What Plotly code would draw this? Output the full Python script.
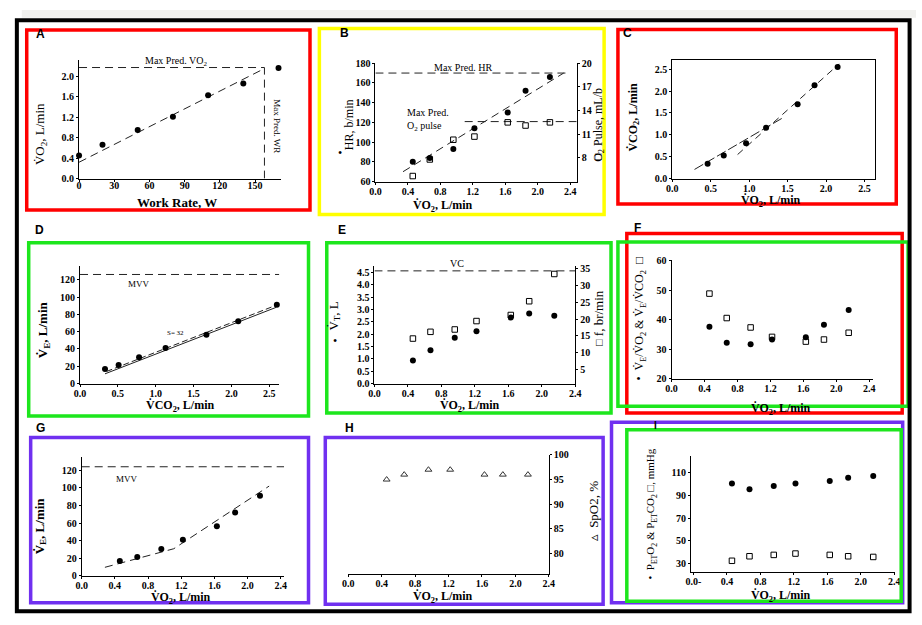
import plotly.graph_objects as go

W, H = 922, 625
SERIF = "Liberation Serif, Times New Roman, serif"
SANS = "Liberation Sans, Arial, sans-serif"

# ---------------- data ----------------
vo2 = [0.46, 0.67, 0.96, 1.22, 1.63, 1.85, 2.15]

# A
work_rate = [0, 20, 50, 80, 110, 140, 170]
vo2_a = [0.45, 0.66, 0.95, 1.21, 1.63, 1.86, 2.16]
a_fit_x = [0, 158]
a_fit_y = [0.32, 2.15]
max_pred_vo2 = 2.17
max_pred_wr = 158

# B
hr = [80, 84, 93, 114, 130, 152, 166]
o2_pulse = [5.7, 7.8, 10.3, 10.7, 12.5, 12.1, 12.5]
b_fit_x = [0.34, 2.32]
b_fit_y = [70, 170]
max_pred_hr = 170
max_pred_o2p = 12.6

# C
vco2 = [0.34, 0.53, 0.81, 1.16, 1.70, 2.13, 2.55]
c_fit1_x = [0.29, 1.43]
c_fit1_y = [0.21, 1.38]
c_fit2_x = [0.85, 2.17]
c_fit2_y = [0.55, 2.62]

# D
vco2_d = [0.33, 0.51, 0.78, 1.13, 1.67, 2.09, 2.60]
ve = [17, 21.5, 30.5, 41, 56.5, 72, 91]
mvv_d = 126
d_fit1_x = [0.33, 2.59]
d_fit1_y = [11.3, 88]
d_fit2_x = [0.35, 2.65]
d_fit2_y = [14, 92.5]

# E
vt = [0.93, 1.35, 1.85, 2.12, 2.67, 2.84, 2.74]
f_br = [14.2, 16.2, 16.9, 19.4, 21.2, 25.3, 33.4]
vc = 4.56

# F
ve_vo2 = [37.6, 32.2, 31.7, 33.3, 34.1, 38.3, 43.3]
ve_vco2 = [48.9, 40.6, 37.4, 34.2, 32.6, 33.3, 35.6]

# G
mvv_g = 124
g_fit_x = [0.28, 1.11, 2.26]
g_fit_y = [9.7, 30.8, 102]

# H
spo2 = [95, 96, 97, 97, 96, 96, 96]

# I
peto2 = [100.7, 95.5, 98.5, 100.7, 102.8, 105.7, 107.4]
petco2 = [32.3, 36.3, 37.5, 38.7, 37.5, 36.3, 35.7]

# tick labels
x_ticks_vo2 = [0, 0.4, 0.8, 1.2, 1.6, 2.0, 2.4]
i_x_ticktext = ["0.0-", "0.4", "0.8", "1.2", "1.6", "2.0", "2.4"]

# ---------------- helpers ----------------
def pxx(p):
    return p / W


def pxy(p):
    return 1 - p / H


fig = go.Figure()
layout = {}


def axis(name, dom, rng, tickvals, anchor, horizontal, fmt=".1f", ticktext=None,
         side=None, overlaying=None, mirror=False):
    d = dict(range=rng, tickvals=tickvals, anchor=anchor, showline=True,
             linecolor="black", linewidth=1, ticks="outside", ticklen=2,
             tickwidth=1, tickcolor="black", showgrid=False, zeroline=False,
             mirror=mirror, fixedrange=True,
             tickfont=dict(family=SERIF, size=10, color="black", weight="bold"))
    if ticktext is not None:
        d["ticktext"] = ticktext
    else:
        d["tickformat"] = fmt
    if dom is not None:
        if horizontal:
            d["domain"] = [pxx(dom[0]), pxx(dom[1])]
            d["ticklabelstandoff"] = -2
        else:
            d["domain"] = [pxy(dom[1]), pxy(dom[0])]
    if side:
        d["side"] = side
    if overlaying:
        d["overlaying"] = overlaying
    layout[name] = d


def pts(x, y, xa, ya, kind="dot"):
    if kind == "dot":
        m = dict(symbol="circle", size=6, color="black")
    elif kind == "sq":
        m = dict(symbol="square-open", size=5.5, color="black", line=dict(width=1))
    else:
        m = dict(symbol="triangle-up-open", size=6, color="#333", line=dict(width=1))
    fig.add_trace(go.Scatter(x=x, y=y, xaxis=xa, yaxis=ya, mode="markers",
                             marker=m, cliponaxis=False, showlegend=False,
                             hoverinfo="skip"))


def dline(x, y, xa, ya, dash="8px,5px", width=1, color="#222"):
    fig.add_trace(go.Scatter(x=x, y=y, xaxis=xa, yaxis=ya, mode="lines",
                             line=dict(color=color, width=width, dash=dash),
                             cliponaxis=False, showlegend=False, hoverinfo="skip"))


annots = []


def txt(text, x, y, size=10, angle=0, bold=False, family=SERIF, xanchor="center",
        align="center"):
    annots.append(dict(text=text, x=pxx(x), y=pxy(y), xref="paper", yref="paper",
                       showarrow=False, textangle=angle, xanchor=xanchor,
                       yanchor="middle", align=align,
                       font=dict(family=family, size=size, color="black",
                                 weight="bold" if bold else "normal")))


VO2_T = "V\u0307O<sub>2</sub>, L/min"

# ---------------- Panel A ----------------
axis("xaxis", (74, 278.5), [0, 172], [0, 30, 60, 90, 120, 150], "y", True, fmt="d")
layout["xaxis"].update(ticklabelstandoff=-5)
axis("yaxis", (54.9, 176), [0, 2.32], [0, 0.4, 0.8, 1.2, 1.6, 2.0], "x", False)
dline(a_fit_x, a_fit_y, "x", "y")
dline([0, max_pred_wr], [max_pred_vo2, max_pred_vo2], "x", "y")
dline([max_pred_wr, max_pred_wr], [0, max_pred_vo2], "x", "y")
pts(work_rate, vo2_a, "x", "y")
txt("Max Pred. VO<sub>2</sub>", 172, 57, 10)
txt("Max Pred. WR", 275, 123, 9, angle=90)
txt(VO2_T, 35, 131, 13, angle=-90)
txt("Work Rate, W", 173, 200, 13, bold=True)
txt("A", 35, 29, 12, bold=True, family=SANS)

# ---------------- Panel B ----------------
axis("xaxis2", (374.3, 578.2), [0, 2.48], x_ticks_vo2, "y2", True)
axis("yaxis2", (58.3, 179), [60, 180], [60, 80, 100, 120, 140, 160, 180], "x2", False, fmt="d")
axis("yaxis3", None, [5, 20], [8, 11, 14, 17, 20], "x2", False, fmt="d", side="right",
     overlaying="y2")
dline(b_fit_x, b_fit_y, "x2", "y2")
dline([0, 2.36], [max_pred_hr, max_pred_hr], "x2", "y2")
dline([1.1, 2.48], [max_pred_o2p, max_pred_o2p], "x2", "y3")
pts(vo2, hr, "x2", "y2")
pts(vo2, o2_pulse, "x2", "y3", "sq")
txt("Max Pred. HR", 463, 63, 10)
txt("Max Pred.<br>O<sub>2</sub> pulse", 404, 116, 10, xanchor="left", align="left")
txt("HR, b/min", 347, 121, 12, angle=-90)
txt("\u2022", 338, 150, 12)
txt("O<sub>2</sub> Pulse, mL/b", 600, 121, 12, angle=-90)
txt("\u25a1", 600, 153, 11)
txt(VO2_T, 443, 204, 12, bold=True)
txt("B", 343, 28, 12, bold=True, family=SANS)

# ---------------- Panel C ----------------
axis("xaxis3", (675, 880), [0, 2.63], [0, 0.5, 1.0, 1.5, 2.0, 2.5], "y4", True, mirror=True)
axis("yaxis4", (55, 176), [0, 2.71], [0, 0.5, 1.0, 1.5, 2.0, 2.5], "x3", False, mirror=True)
dline(c_fit1_x, c_fit1_y, "x3", "y4", dash="10px,3px")
dline(c_fit2_x, c_fit2_y, "x3", "y4", dash="7px,5px")
pts(vo2, vco2, "x3", "y4")
txt("V\u0307CO<sub>2</sub>, L/min", 636, 113, 12, angle=-90, bold=True)
txt(VO2_T, 775, 198.5, 12, bold=True)
txt("C", 630, 28, 12, bold=True, family=SANS)

# ---------------- Panel D ----------------
axis("xaxis4", (75, 276.7), [0, 2.63], [0, 0.5, 1.0, 1.5, 2.0, 2.5], "y5", True)
axis("yaxis5", (265, 385), [0, 135.9], [0, 20, 40, 60, 80, 100, 120], "x4", False, fmt="d")
dline([0, 2.67], [mvv_d, mvv_d], "x4", "y5")
dline(d_fit1_x, d_fit1_y, "x4", "y5", dash="solid")
dline(d_fit2_x, d_fit2_y, "x4", "y5", dash="6px,3px")
pts(vco2_d, ve, "x4", "y5")
txt("MVV", 135, 283, 9)
txt("S= 32", 172, 333, 7)
txt("V\u0307<sub>E</sub>, L/min", 38, 330, 13, angle=-90, bold=True)
txt("V\u0307CO<sub>2</sub>, L/min", 177, 407.5, 12, bold=True)
txt("D", 34, 228, 12, bold=True, family=SANS)

# ---------------- Panel E ----------------
axis("xaxis5", (373.3, 576.7), [0, 2.4], x_ticks_vo2, "y6", True)
axis("yaxis6", (265, 385), [0, 4.76], [0, 0.5, 1.0, 1.5, 2.0, 2.5, 3.0, 3.5, 4.0, 4.5],
     "x5", False)
axis("yaxis7", None, [0.8, 35.8], [5, 10, 15, 20, 25, 30, 35], "x5", False, fmt="d",
     side="right", overlaying="y6")
dline([0, 2.4], [vc, vc], "x5", "y6")
pts(vo2, vt, "x5", "y6")
pts(vo2, f_br, "x5", "y7", "sq")
txt("VC", 457, 263, 10)
txt("V\u0307<sub>T</sub>, L", 333, 316, 13, angle=-90)
txt("\u2022", 333, 342, 12)
txt("f, br/min", 601, 313, 13, angle=-90)
txt("\u25a1", 601, 343, 11)
txt(VO2_T, 470, 407.5, 12, bold=True)
txt("E", 340, 228, 12, bold=True, family=SANS)

# ---------------- Panel F ----------------
axis("xaxis6", (674.3, 878), [0, 2.44], x_ticks_vo2, "y8", True)
axis("yaxis8", (259.3, 380), [20, 60.2], [20, 30, 40, 50, 60], "x6", False, fmt="d")
pts(vo2, ve_vo2, "x6", "y8")
pts(vo2, ve_vco2, "x6", "y8", "sq")
txt("\u2022  V\u0307<sub>E</sub>/V\u0307O<sub>2</sub> & V\u0307<sub>E</sub>/V\u0307CO<sub>2</sub>  \u25a1",
    642, 319, 12, angle=-90)
txt(VO2_T, 785, 411, 12, bold=True)
txt("F", 640, 226, 12, bold=True, family=SANS)

# ---------------- Panel G ----------------
axis("xaxis7", (76.7, 281.7), [0, 2.44], x_ticks_vo2, "y9", True)
axis("yaxis9", (460, 581), [0, 134.9], [0, 20, 40, 60, 80, 100, 120], "x7", False, fmt="d")
dline([0, 2.48], [mvv_g, mvv_g], "x7", "y9")
dline(g_fit_x, g_fit_y, "x7", "y9")
pts(vo2, ve, "x7", "y9")
txt("MVV", 123, 482, 9)
txt("V\u0307<sub>E</sub>, L/min", 35, 530, 13, angle=-90, bold=True)
txt(VO2_T, 177, 603.5, 12, bold=True)
txt("G", 35, 430, 12, bold=True, family=SANS)

# ---------------- Panel H ----------------
axis("xaxis8", (346.7, 550), [0, 2.4], x_ticks_vo2, "y10", True)
axis("yaxis10", (457.7, 579.3), [75.8, 100], [80, 85, 90, 95, 100], "x8", False, fmt="d",
     side="right")
axis("yaxis12", None, [75.8, 100], [], "x8", False, fmt="d", side="left",
     overlaying="y10")
layout["yaxis12"].update(linewidth=2, ticks="", showticklabels=False)
pts(vo2, spo2, "x8", "y10", "tri")
txt("\u25b5  SpO2, %", 595, 515, 13, angle=-90)
txt(VO2_T, 443, 603, 12, bold=True)
txt("H", 348, 430, 12, bold=True, family=SANS)

# ---------------- Panel I ----------------
axis("xaxis9", (694, 900.7), [-0.03, 2.41], x_ticks_vo2, "y11", True,
     ticktext=i_x_ticktext)
axis("yaxis11", (459.3, 576.7), [22.7, 124.6], [30, 50, 70, 90, 110], "x9", False, fmt="d")
pts(vo2, peto2, "x9", "y11")
pts(vo2, petco2, "x9", "y11", "sq")
txt("\u2022  P<sub>ET</sub>O<sub>2</sub> & P<sub>ET</sub>CO<sub>2</sub> \u25a1, mmHg",
    654, 518, 11, angle=-90)
txt(VO2_T, 785, 602, 12, bold=True)
txt("I", 658, 428, 10, bold=True, family=SANS)

# ---------------- frames ----------------
RED, YEL, GRN, PUR = "#ff0000", "#ffff00", "#1de61d", "#7030f0"
frames = [
    (21, 24.5, 308, 208, RED),
    (317.5, 23, 606, 212.5, YEL),
    (620, 24, 902, 202, RED),
    (23, 241.5, 306.5, 418, GRN),
    (325, 241.5, 613, 415, GRN),
    (629, 232, 908, 415, RED),
    (620, 240.5, 914, 408, GRN),
    (25, 440, 306.5, 608.5, PUR),
    (323.5, 440, 605, 610, PUR),
    (613.5, 424.5, 908.5, 608.5, PUR),
    (629, 432, 907, 607, GRN),
]
shapes = [dict(type="rect", xref="paper", yref="paper", x0=pxx(16), x1=pxx(922),
               y0=pxy(4), y1=pxy(12), line=dict(width=0), fillcolor="#f1f1ef",
               layer="below")]
for x0, y0, x1, y1, c in frames:
    shapes.append(dict(type="rect", xref="paper", yref="paper", x0=pxx(x0), x1=pxx(x1),
                       y0=pxy(y0), y1=pxy(y1), line=dict(color=c, width=3.5),
                       layer="above"))
shapes.append(dict(type="rect", xref="paper", yref="paper", x0=pxx(11), x1=pxx(915.5),
                   y0=pxy(14.5), y1=pxy(617), line=dict(color="black", width=4),
                   layer="above"))

fig.update_layout(
    width=W, height=H, margin=dict(l=0, r=0, t=0, b=0),
    paper_bgcolor="white", plot_bgcolor="rgba(0,0,0,0)",
    showlegend=False, shapes=shapes, annotations=annots,
    **layout,
)

fig.write_html("out.html", config={"displayModeBar": False})
